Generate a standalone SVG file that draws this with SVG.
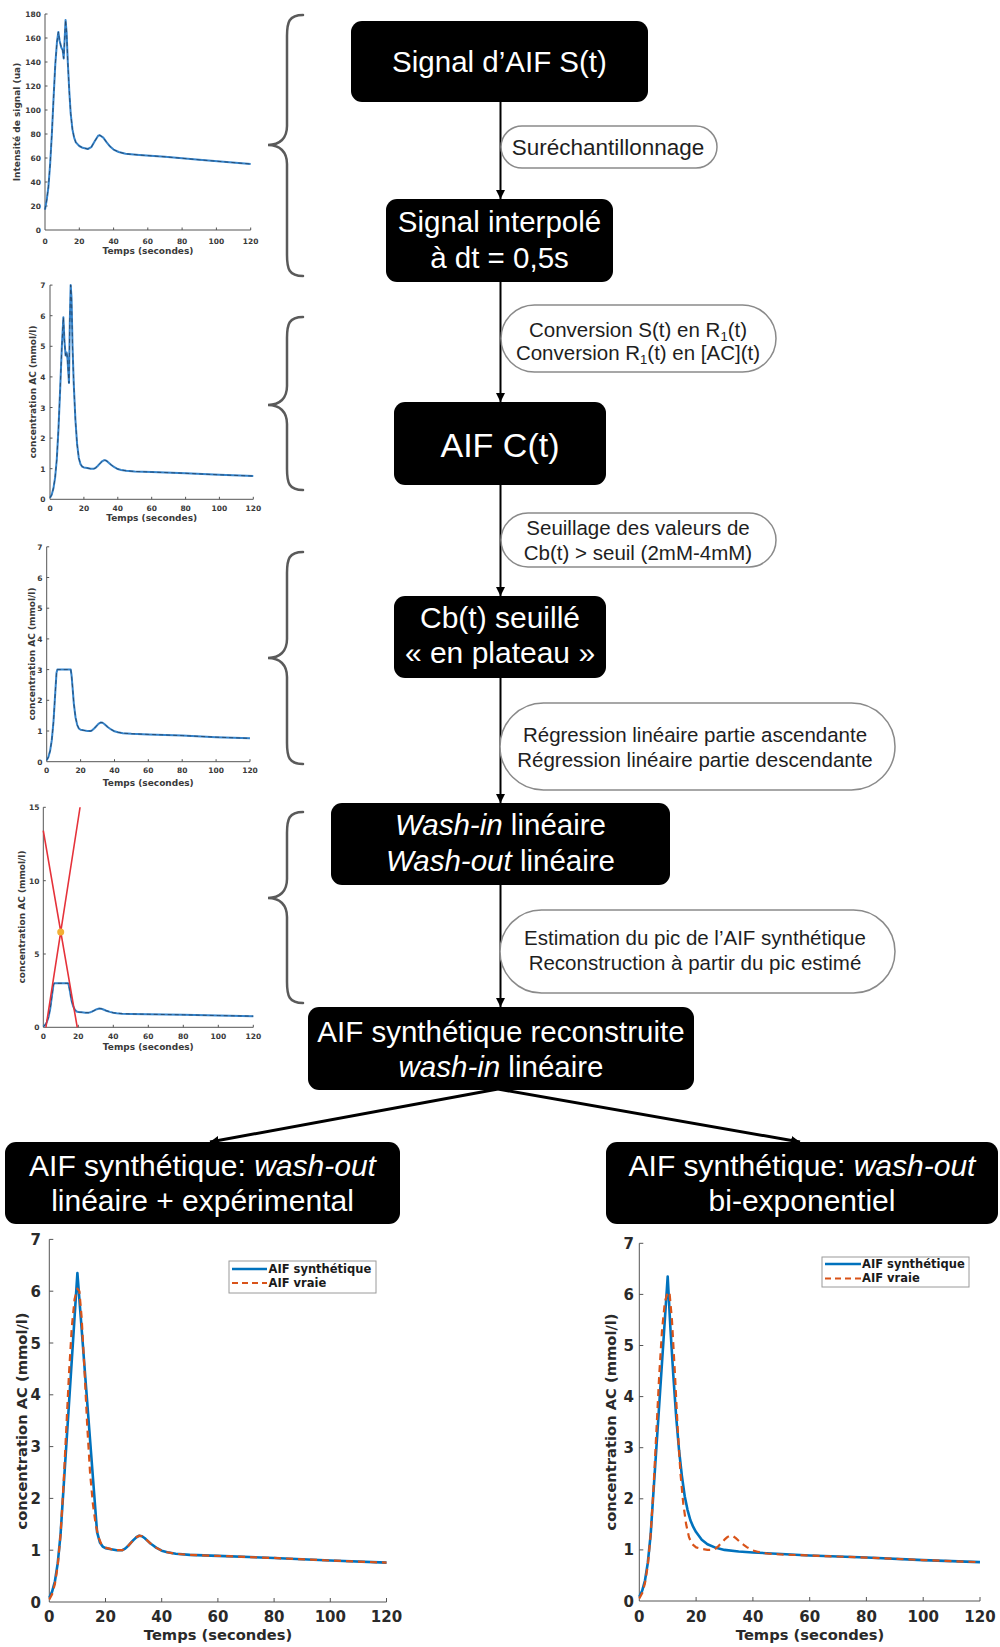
<svg xmlns="http://www.w3.org/2000/svg" width="1000" height="1647" viewBox="0 0 1000 1647">
<style>
.box{fill:#000}
.bt{fill:#fff;font-family:"Liberation Sans",Arial,sans-serif;text-anchor:middle;font-size:29.5px}
.it{font-style:italic}
.pill{fill:#fff;stroke:#8a8a8a;stroke-width:1.5}
.pt{fill:#1e1e1e;font-family:"Liberation Sans",Arial,sans-serif;font-size:20.5px;text-anchor:middle}
.conn{stroke:#000;stroke-width:2;fill:none}
.diag{stroke:#000;stroke-width:3;fill:none}
.brace{fill:none;stroke:#5a5a5a;stroke-width:2.5;stroke-linecap:round}
.ax{stroke:#555;stroke-width:1;fill:none}
.sm{font-family:"DejaVu Sans",sans-serif;font-weight:bold;fill:#3a3a3a;font-size:7.5px}
.sl{font-family:"DejaVu Sans",sans-serif;font-weight:bold;fill:#3a3a3a;font-size:9px;text-anchor:middle}
.bg{font-family:"DejaVu Sans",sans-serif;font-weight:bold;fill:#2a2a2a;font-size:15px}
.bl{font-family:"DejaVu Sans",sans-serif;font-weight:bold;fill:#2a2a2a;font-size:14.7px;text-anchor:middle}
.lg{font-family:"DejaVu Sans",sans-serif;font-weight:bold;fill:#1a1a1a;font-size:11.5px}
.e{text-anchor:end}
.m{text-anchor:middle}
.nss{vector-effect:non-scaling-stroke;stroke-linejoin:round}
.cb{fill:none;stroke:#3584cc;stroke-width:2;vector-effect:non-scaling-stroke;stroke-linejoin:round}
.cd{fill:none;stroke:#24405e;stroke-width:0.8;stroke-dasharray:4 3;vector-effect:non-scaling-stroke;stroke-linejoin:round}
.syn{fill:none;stroke:#0072BD;stroke-width:2.6;vector-effect:non-scaling-stroke;stroke-linejoin:round}
.tru{fill:none;stroke:#D95319;stroke-width:2.2;stroke-dasharray:7 5;vector-effect:non-scaling-stroke;stroke-linejoin:round}
.red{fill:none;stroke:#e5323a;stroke-width:1.6;vector-effect:non-scaling-stroke}
</style>
<defs>
<marker id="ah" viewBox="0 0 10 10" refX="10" refY="5" markerWidth="9" markerHeight="9" markerUnits="userSpaceOnUse" orient="auto"><path d="M0,0 L10,5 L0,10 z" fill="#000"/></marker>
<path id="cjag" class="nss" d="M0,0.05 L1,0.15 2,0.35 3,0.7 4,1.3 5,2.3 6,3.6 7,5 7.9,5.95 8.5,5.2 9.2,4.7 9.8,4.8 10.3,4.6 11.2,3.8 11.7,5.8 12.2,7 12.7,6.6 13.3,5 14,3.8 15,2.6 16,1.8 17,1.35 18,1.15 19,1.07 20,1.04 22,1.02 24,1 26,1 27,1.03 28,1.08 29,1.14 30,1.2 31,1.25 32,1.28 33,1.27 34,1.23 35,1.18 36,1.13 37,1.09 38,1.05 40,0.99 42,0.96 45,0.93 50,0.91 60,0.89 80,0.85 100,0.8 120,0.76"/>
<path id="cthr" class="nss" d="M0,0.05 L1,0.15 2,0.35 3,0.7 4,1.3 5,2.2 5.8,2.9 6.3,3 14.2,3 14.7,2.8 15.3,2.4 16,1.9 17,1.45 18,1.2 19,1.08 20,1.04 22,1.02 24,1 26,1 27,1.03 28,1.08 29,1.14 30,1.2 31,1.25 32,1.28 33,1.27 34,1.23 35,1.18 36,1.13 37,1.09 38,1.05 40,0.99 42,0.96 45,0.93 50,0.91 60,0.89 80,0.85 100,0.8 120,0.76"/>
<path id="ctrue" class="nss" d="M0,0.05 L1,0.15 2,0.35 3,0.7 4,1.3 5,2.2 6,3.3 7,4.4 8,5.3 9,5.85 10,6.05 10.7,6 11.5,5.5 12.5,4.5 13.5,3.4 14.5,2.5 15.5,1.9 16.5,1.5 17.5,1.25 18.5,1.12 20,1.05 22,1.02 24,1 26,1 27,1.03 28,1.08 29,1.14 30,1.2 31,1.25 32,1.28 33,1.27 34,1.23 35,1.18 36,1.13 37,1.09 38,1.05 40,0.99 42,0.96 45,0.93 50,0.91 60,0.89 80,0.85 100,0.8 120,0.76"/>
</defs>

<!-- Charts on the left -->
<g id="chart1">
<path class="ax" d="M45,14 V230 H250.7 M45,206 h2.5 M45,182 h2.5 M45,158 h2.5 M45,134 h2.5 M45,110 h2.5 M45,86 h2.5 M45,62 h2.5 M45,38 h2.5 M45,14 h2.5 M79.3,230 v-2.5 M113.6,230 v-2.5 M147.8,230 v-2.5 M182.1,230 v-2.5 M216.4,230 v-2.5 M250.7,230 v-2.5"/>
<g class="sm e"><text x="41" y="233">0</text><text x="41" y="209">20</text><text x="41" y="185">40</text><text x="41" y="161">60</text><text x="41" y="137">80</text><text x="41" y="113">100</text><text x="41" y="89">120</text><text x="41" y="65">140</text><text x="41" y="41">160</text><text x="41" y="17">180</text></g>
<g class="sm m"><text x="45" y="243.5">0</text><text x="79.3" y="243.5">20</text><text x="113.6" y="243.5">40</text><text x="147.8" y="243.5">60</text><text x="182.1" y="243.5">80</text><text x="216.4" y="243.5">100</text><text x="250.7" y="243.5">120</text></g>
<text class="sl" x="148" y="253.5">Temps (secondes)</text>
<text class="sl" transform="translate(20,122) rotate(-90)">Intensité de signal (ua)</text>
<g transform="matrix(1.714,0,0,-1.2,45,230)">
<path id="sig" class="cb" d="M0,17 L1,25 2,36 3,55 4,80 5,110 6,138 7,157 7.8,165 8.5,158 9.5,152 10.3,150 10.9,143 11.5,160 12,175 12.6,165 13.3,140 14.2,115 15,97 16,84 17,77 18,73 20,70 22,68.5 25,67.5 27,69 29,74 31,78.5 32,79 34,77 36,73 38,69.5 40,67 43,65 47,63.5 55,62.5 70,61 90,58.5 120,55"/>
<path class="cd" d="M0,17 L1,25 2,36 3,55 4,80 5,110 6,138 7,157 7.8,165 8.5,158 9.5,152 10.3,150 10.9,143 11.5,160 12,175 12.6,165 13.3,140 14.2,115 15,97 16,84 17,77 18,73 20,70 22,68.5 25,67.5 27,69 29,74 31,78.5 32,79 34,77 36,73 38,69.5 40,67 43,65 47,63.5 55,62.5 70,61 90,58.5 120,55"/>
</g>
</g>

<g id="chart2">
<path class="ax" d="M50,285.1 V499.3 H253.3 M50,468.7 h2.5 M50,438.1 h2.5 M50,407.5 h2.5 M50,376.9 h2.5 M50,346.3 h2.5 M50,315.7 h2.5 M50,285.1 h2.5 M83.9,499.3 v-2.5 M117.8,499.3 v-2.5 M151.7,499.3 v-2.5 M185.6,499.3 v-2.5 M219.4,499.3 v-2.5 M253.3,499.3 v-2.5"/>
<g class="sm e"><text x="45.5" y="502.3">0</text><text x="45.5" y="471.7">1</text><text x="45.5" y="441.1">2</text><text x="45.5" y="410.5">3</text><text x="45.5" y="379.9">4</text><text x="45.5" y="349.3">5</text><text x="45.5" y="318.7">6</text><text x="45.5" y="288.1">7</text></g>
<g class="sm m"><text x="50" y="510.5">0</text><text x="83.9" y="510.5">20</text><text x="117.8" y="510.5">40</text><text x="151.7" y="510.5">60</text><text x="185.6" y="510.5">80</text><text x="219.4" y="510.5">100</text><text x="253.3" y="510.5">120</text></g>
<text class="sl" x="151.7" y="520.5">Temps (secondes)</text>
<text class="sl" transform="translate(36,392) rotate(-90)">concentration AC (mmol/l)</text>
<g transform="matrix(1.694,0,0,-30.6,50,499.3)">
<use href="#cjag" class="cb"/><use href="#cjag" class="cd"/>
</g>
</g>

<g id="chart3">
<path class="ax" d="M46.7,546.8 V761.7 H250 M46.7,731 h2.5 M46.7,700.3 h2.5 M46.7,669.6 h2.5 M46.7,638.9 h2.5 M46.7,608.2 h2.5 M46.7,577.5 h2.5 M46.7,546.8 h2.5 M80.6,761.7 v-2.5 M114.5,761.7 v-2.5 M148.3,761.7 v-2.5 M182.2,761.7 v-2.5 M216.1,761.7 v-2.5 M250,761.7 v-2.5"/>
<g class="sm e"><text x="42.5" y="764.7">0</text><text x="42.5" y="734">1</text><text x="42.5" y="703.3">2</text><text x="42.5" y="672.6">3</text><text x="42.5" y="641.9">4</text><text x="42.5" y="611.2">5</text><text x="42.5" y="580.5">6</text><text x="42.5" y="549.8">7</text></g>
<g class="sm m"><text x="46.7" y="773">0</text><text x="80.6" y="773">20</text><text x="114.5" y="773">40</text><text x="148.3" y="773">60</text><text x="182.2" y="773">80</text><text x="216.1" y="773">100</text><text x="250" y="773">120</text></g>
<text class="sl" x="148.3" y="786">Temps (secondes)</text>
<text class="sl" transform="translate(35,654) rotate(-90)">concentration AC (mmol/l)</text>
<g transform="matrix(1.694,0,0,-30.7,46.7,761.7)">
<use href="#cthr" class="cb"/><use href="#cthr" class="cd"/>
</g>
</g>

<g id="chart4">
<path class="ax" d="M43.3,807.3 V1027.3 H253.3 M43.3,954 h2.5 M43.3,880.7 h2.5 M43.3,807.3 h2.5 M78.3,1027.3 v-2.5 M113.3,1027.3 v-2.5 M148.3,1027.3 v-2.5 M183.3,1027.3 v-2.5 M218.3,1027.3 v-2.5 M253.3,1027.3 v-2.5"/>
<g class="sm e"><text x="39.5" y="1030.3">0</text><text x="39.5" y="957">5</text><text x="39.5" y="883.7">10</text><text x="39.5" y="810.3">15</text></g>
<g class="sm m"><text x="43.3" y="1038.5">0</text><text x="78.3" y="1038.5">20</text><text x="113.3" y="1038.5">40</text><text x="148.3" y="1038.5">60</text><text x="183.3" y="1038.5">80</text><text x="218.3" y="1038.5">100</text><text x="253.3" y="1038.5">120</text></g>
<text class="sl" x="148.3" y="1050">Temps (secondes)</text>
<text class="sl" transform="translate(25,917) rotate(-90)">concentration AC (mmol/l)</text>
<g transform="matrix(1.75,0,0,-14.67,43.3,1027.3)">
<use href="#cthr" class="cb"/><use href="#cthr" class="cd"/>
<path class="red" d="M1.5,0 L21,15 M0,13.4 L19.4,0"/>
</g>
<circle cx="60.7" cy="932" r="3.5" fill="#f2b035"/>
</g>

<!-- Braces -->
<g id="braces">
<path class="brace" d="M303,15 C289,15 287,22 287,36 L287,126 C287,138 280,145 268,145 C280,145 287,152 287,164 L287,255 C287,269 289,276 303,276"/>
<path class="brace" d="M303,317 C289,317 287,324 287,338 L287,386 C287,398 280,405 268,405 C280,405 287,412 287,424 L287,469 C287,483 289,490 303,490"/>
<path class="brace" d="M303,552 C289,552 287,559 287,573 L287,639 C287,651 280,658 268,658 C280,658 287,665 287,677 L287,743 C287,757 289,764 303,764"/>
<path class="brace" d="M303,812 C289,812 287,819 287,833 L287,879 C287,891 280,898 268,898 C280,898 287,905 287,917 L287,982 C287,996 289,1003 303,1003"/>
</g>

<!-- Connectors -->
<g id="connectors">
<path class="conn" d="M500.5,102 V199" marker-end="url(#ah)"/>
<path class="conn" d="M500.5,282 V402" marker-end="url(#ah)"/>
<path class="conn" d="M500.5,485 V596" marker-end="url(#ah)"/>
<path class="conn" d="M500.5,678 V803" marker-end="url(#ah)"/>
<path class="conn" d="M500.5,885 V1007" marker-end="url(#ah)"/>
<path class="diag" d="M498,1089 L210,1142" marker-end="url(#ah)"/>
<path class="diag" d="M498,1089 L800,1142" marker-end="url(#ah)"/>
</g>

<!-- Edge labels -->
<g id="label-surech">
<rect class="pill" x="501" y="126" width="216" height="42" rx="21"/>
<text class="pt" x="608" y="154.5" style="font-size:22.5px">Suréchantillonnage</text>
</g>
<g id="label-conversion">
<rect class="pill" x="501" y="305" width="275" height="67" rx="33.5"/>
<text class="pt" x="638" y="336.5">Conversion S(t) en R<tspan font-size="13" dy="4">1</tspan><tspan dy="-4">(t)</tspan></text>
<text class="pt" x="638" y="360">Conversion R<tspan font-size="13" dy="4">1</tspan><tspan dy="-4">(t) en [AC](t)</tspan></text>
</g>
<g id="label-seuillage">
<rect class="pill" x="501" y="513" width="275" height="54" rx="27"/>
<text class="pt" x="638" y="535">Seuillage des valeurs de</text>
<text class="pt" x="638" y="560">Cb(t) &gt; seuil (2mM-4mM)</text>
</g>
<g id="label-regression">
<rect class="pill" x="500" y="703" width="395" height="87" rx="43.5"/>
<text class="pt" x="695" y="741.5">Régression linéaire partie ascendante</text>
<text class="pt" x="695" y="766.5">Régression linéaire partie descendante</text>
</g>
<g id="label-estimation">
<rect class="pill" x="500" y="910" width="395" height="83" rx="41.5"/>
<text class="pt" x="695" y="945">Estimation du pic de l’AIF synthétique</text>
<text class="pt" x="695" y="970">Reconstruction à partir du pic estimé</text>
</g>

<!-- Nodes -->
<g id="n-signal">
<rect class="box" x="351" y="21" width="297" height="81" rx="11"/>
<text class="bt" x="499.5" y="72">Signal d’AIF S(t)</text>
</g>
<g id="n-interpole">
<rect class="box" x="386" y="199" width="227" height="83" rx="11"/>
<text class="bt" x="499.5" y="231.5">Signal interpolé</text>
<text class="bt" x="499.5" y="268">à dt = 0,5s</text>
</g>
<g id="n-aifc">
<rect class="box" x="394" y="402" width="212" height="83" rx="11"/>
<text class="bt" x="500" y="456.5" style="font-size:34px">AIF C(t)</text>
</g>
<g id="n-cbt">
<rect class="box" x="394" y="596" width="212" height="82" rx="11"/>
<text class="bt" x="500" y="628" style="font-size:30px">Cb(t) seuillé</text>
<text class="bt" x="500" y="663" style="font-size:30px">« en plateau »</text>
</g>
<g id="n-washin">
<rect class="box" x="331" y="803" width="339" height="82" rx="11"/>
<text class="bt" x="500.5" y="835"><tspan class="it">Wash-in</tspan> linéaire</text>
<text class="bt" x="500.5" y="870.5"><tspan class="it">Wash-out</tspan> linéaire</text>
</g>
<g id="n-reconstruite">
<rect class="box" x="308" y="1007" width="386" height="83" rx="11"/>
<text class="bt" x="501" y="1041.5">AIF synthétique reconstruite</text>
<text class="bt" x="501" y="1076.5"><tspan class="it">wash-in</tspan> linéaire</text>
</g>
<g id="n-lineaire-exp">
<rect class="box" x="5" y="1142" width="395" height="82" rx="11"/>
<text class="bt" x="202.5" y="1176" style="font-size:30px">AIF synthétique:  <tspan class="it">wash-out</tspan></text>
<text class="bt" x="202.5" y="1211" style="font-size:30px">linéaire + expérimental</text>
</g>
<g id="n-biexp">
<rect class="box" x="606" y="1142" width="392" height="82" rx="11"/>
<text class="bt" x="802" y="1176" style="font-size:30px">AIF synthétique:  <tspan class="it">wash-out</tspan></text>
<text class="bt" x="802" y="1211" style="font-size:30px">bi-exponentiel</text>
</g>

<!-- Bottom charts -->
<g id="chart-left">
<path class="ax" d="M49.3,1239.4 V1602 H386.5 M49.3,1550.2 h4 M49.3,1498.4 h4 M49.3,1446.6 h4 M49.3,1394.8 h4 M49.3,1343 h4 M49.3,1291.2 h4 M49.3,1239.4 h4 M105.5,1602 v-4 M161.7,1602 v-4 M217.9,1602 v-4 M274.1,1602 v-4 M330.3,1602 v-4 M386.5,1602 v-4"/>
<g class="bg e"><text x="41" y="1607.5">0</text><text x="41" y="1555.7">1</text><text x="41" y="1503.9">2</text><text x="41" y="1452.1">3</text><text x="41" y="1400.3">4</text><text x="41" y="1348.5">5</text><text x="41" y="1296.7">6</text><text x="41" y="1244.9">7</text></g>
<g class="bg m"><text x="49.3" y="1622">0</text><text x="105.5" y="1622">20</text><text x="161.7" y="1622">40</text><text x="217.9" y="1622">60</text><text x="274.1" y="1622">80</text><text x="330.3" y="1622">100</text><text x="386.5" y="1622">120</text></g>
<text class="bl" x="218" y="1640">Temps (secondes)</text>
<text class="bl" transform="translate(27,1421) rotate(-90)">concentration AC (mmol/l)</text>
<g transform="matrix(2.81,0,0,-51.8,49.3,1602)">
<path class="syn" d="M0,0.08 L1,0.2 2,0.4 3,0.75 4,1.3 10,6.35 17,1.35 18,1.15 19,1.07 20,1.04 22,1.02 24,1 26,1 27,1.03 28,1.08 29,1.14 30,1.2 31,1.25 32,1.28 33,1.27 34,1.23 35,1.18 36,1.13 37,1.09 38,1.05 40,0.99 42,0.96 45,0.93 50,0.91 60,0.89 80,0.85 100,0.8 120,0.76"/>
<use href="#ctrue" class="tru"/>
</g>
<g id="legend-left">
<rect x="229" y="1261" width="147" height="32" fill="#fff" stroke="#9a9a9a" stroke-width="1"/>
<path d="M232,1269 H267" stroke="#0072BD" stroke-width="2.6"/>
<path d="M232,1283 H267" stroke="#D95319" stroke-width="2.2" stroke-dasharray="6 4"/>
<text class="lg" x="268.5" y="1273.3">AIF synthétique</text>
<text class="lg" x="268.5" y="1287">AIF vraie</text>
</g>
</g>

<g id="chart-right">
<path class="ax" d="M639.3,1243.3 V1601 H980 M639.3,1549.9 h4 M639.3,1498.8 h4 M639.3,1447.7 h4 M639.3,1396.6 h4 M639.3,1345.5 h4 M639.3,1294.4 h4 M639.3,1243.3 h4 M696.1,1601 v-4 M752.9,1601 v-4 M809.7,1601 v-4 M866.4,1601 v-4 M923.2,1601 v-4 M980,1601 v-4"/>
<g class="bg e"><text x="634" y="1606.5">0</text><text x="634" y="1555.4">1</text><text x="634" y="1504.3">2</text><text x="634" y="1453.2">3</text><text x="634" y="1402.1">4</text><text x="634" y="1351">5</text><text x="634" y="1299.9">6</text><text x="634" y="1248.8">7</text></g>
<g class="bg m"><text x="639.3" y="1622">0</text><text x="696.1" y="1622">20</text><text x="752.9" y="1622">40</text><text x="809.7" y="1622">60</text><text x="866.4" y="1622">80</text><text x="923.2" y="1622">100</text><text x="980" y="1622">120</text></g>
<text class="bl" x="810" y="1640">Temps (secondes)</text>
<text class="bl" transform="translate(616,1422) rotate(-90)">concentration AC (mmol/l)</text>
<g transform="matrix(2.839,0,0,-51.1,639.3,1601)">
<path class="syn" d="M0,0.08 L1,0.2 2,0.4 3,0.75 4,1.3 10,6.35 11,5.3 12,4.4 13,3.6 14,2.95 15,2.45 16,2.05 17,1.78 18,1.58 19,1.45 20,1.35 22,1.2 24,1.11 27,1.04 30,1 35,0.97 40,0.95 50,0.92 60,0.89 80,0.85 100,0.8 120,0.76"/>
<use href="#ctrue" class="tru"/>
</g>
<g id="legend-right">
<rect x="822" y="1257" width="147" height="30" fill="#fff" stroke="#9a9a9a" stroke-width="1"/>
<path d="M825,1264 H861" stroke="#0072BD" stroke-width="2.6"/>
<path d="M825,1278.5 H861" stroke="#D95319" stroke-width="2.2" stroke-dasharray="6 4"/>
<text class="lg" x="862" y="1268">AIF synthétique</text>
<text class="lg" x="862" y="1282">AIF vraie</text>
</g>
</g>
</svg>
